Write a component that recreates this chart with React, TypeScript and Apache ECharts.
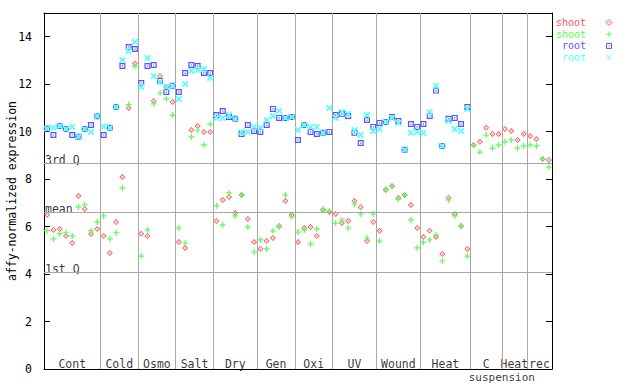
import React, { useEffect, useRef } from "react";
import * as echarts from "echarts";

// ---- data ----
const groupNames = ["Cont", "Cold", "Osmo", "Salt", "Dry", "Gen", "Oxi", "UV", "Wound", "Heat", "C", "Heat", "rec"];
const groupSizes = [9, 6, 6, 6, 7, 6, 6, 7, 7, 8, 5, 4, 4];
const subLabel = "suspension";
const subLabelAt = 73;

const shootRep1 = [
  6.50, 5.86, 5.90, 5.60, 5.31, 7.30, 6.74, 5.69, 5.90,
  5.60, 4.89, 6.19, 8.09, 11.00, 12.87,
  5.70, 5.60, 11.29, 12.35, 11.88, 11.25,
  5.35, 5.10, 10.07, 10.24, 9.99, 9.99,
  6.24, 7.12, 7.25, 6.57, 7.33, 6.32, 5.35,
  5.06, 5.39, 5.52, 6.03, 7.08, 6.49,
  5.35, 5.94, 5.98, 5.60, 6.70, 6.62,
  6.53, 6.15, 6.24, 7.08, 6.83, 5.39, 6.19,
  5.82, 7.54, 7.71, 7.21, 7.33, 6.91, 5.94,
  5.56, 5.82, 5.56, 4.85, 7.21, 6.53, 6.03, 5.06,
  9.44, 9.57, 10.16, 9.90, 9.90,
  10.11, 10.03, 9.65, 9.90,
  9.82, 9.69, 8.85, 8.81,
];
const shootRep2 = [
  5.83, 5.48, 5.70, 5.74, 5.60, 6.83, 6.92, 5.83, 6.19,
  6.45, 5.48, 5.74, 7.63, 11.14, 12.75,
  4.76, 5.86, 11.17, 11.63, 11.38, 10.70,
  5.94, 5.31, 9.78, 10.07, 9.44, 10.32,
  6.87, 6.07, 7.42, 6.45, 7.33, 5.98, 4.93,
  5.44, 5.06, 5.82, 5.98, 7.33, 6.41,
  5.77, 5.86, 5.27, 5.90, 6.74, 6.66,
  6.15, 6.28, 5.94, 6.95, 6.53, 5.52, 6.53,
  5.39, 7.59, 7.71, 7.16, 7.33, 6.28, 5.10,
  5.35, 5.44, 5.65, 4.55, 7.12, 6.45, 6.03, 4.76,
  9.44, 9.14, 9.86, 9.31, 9.44,
  9.57, 9.65, 9.31, 9.40,
  9.44, 9.40, 8.85, 8.51,
];
const rootRep1 = [
  10.13, 9.86, 10.24, 10.11, 9.86, 9.79, 10.11, 10.28, 10.65,
  9.86, 10.16, 11.04, 12.77, 13.57, 13.48,
  12.05, 12.77, 12.81, 12.14, 11.67, 11.93,
  11.67, 12.47, 12.81, 12.77, 12.47, 12.47,
  10.70, 10.87, 10.62, 10.54, 9.90, 10.28, 10.03,
  9.99, 10.28, 10.96, 10.58, 10.58, 10.62,
  9.65, 10.28, 9.99, 9.90, 9.95, 9.99,
  10.70, 10.75, 10.66, 9.95, 9.52, 10.49, 10.20,
  10.37, 10.41, 10.62, 10.45, 9.24, 10.32, 10.20,
  10.32, 10.66, 11.73, 9.40, 10.54, 10.58, 10.32, 11.04,
];
const rootRep2 = [
  10.13, 10.16, 10.24, 10.11, 10.20, 9.79, 10.11, 9.99, 10.65,
  10.22, 10.16, 11.04, 13.02, 13.40, 13.78,
  11.88, 13.10, 12.35, 12.09, 11.88, 11.93,
  11.38, 12.01, 12.56, 12.60, 12.64, 12.26,
  10.58, 10.58, 10.70, 10.54, 9.99, 9.99, 10.20,
  10.16, 10.49, 10.66, 10.87, 10.58, 10.62,
  10.07, 10.28, 10.20, 10.20, 9.95, 11.00,
  10.58, 10.83, 10.75, 10.07, 9.86, 10.70, 10.03,
  10.11, 10.41, 10.58, 10.37, 9.24, 9.95, 9.99,
  9.95, 10.83, 11.93, 9.40, 10.45, 10.11, 10.03, 10.96,
];

const quartileNames = ["3rd Q", "mean", "1st Q"];
const quartileValues = [8.68, 6.62, 4.09];
const yMax = 15;
const yStep = 2;

const seriesNames = ["shoot", "shoot", "root", "root"];
const seriesColors = ["#ff5555", "#55ff55", "#5555ff", "#55ffff"];

// ---- styles ----
const FONT = "DejaVu Sans Mono";
const FS = 11.5;
const LEGEND_FS = 10;
const SYM_DIAMOND = "path://M2.5,0L5,2.5L2.5,5L0,2.5Z M2.5,1L1,2.5L2.5,4L4,2.5Z M2.5,2L3,2.5L2.5,3L2,2.5Z";
const SYM_PLUS = "path://M2,0H3V2H5V3H3V5H2V3H0V2H2Z";
const SYM_SQUARE = "path://M0,0H5V5H0Z M1,1V4H4V1Z M2,2H3V3H2Z";
const SYM_X = "path://M0,0H1L2.5,1.5L4,0H5V1L3.5,2.5L5,4V5H4L2.5,3.5L1,5H0V4L1.5,2.5L0,1Z";
const symbols = [SYM_DIAMOND, SYM_PLUS, SYM_SQUARE, SYM_X];
const symbolSizes = [6, 6, 6, 6];

export default function App() {
  const ref = useRef<HTMLDivElement>(null);
  useEffect(() => {
    if (!ref.current) return;
    const chart = echarts.init(ref.current, undefined, { renderer: "svg" });

    const total = groupSizes.reduce((a, b) => a + b, 0);
    const bounds: number[] = [];
    const mids: number[] = [];
    let acc = 0;
    groupSizes.forEach((s, i) => {
      mids.push(acc + s / 2);
      acc += s;
      if (i < groupSizes.length - 1) bounds.push(acc);
    });

    const toPoints = (vals: number[]) => vals.map((v, i) => [i + 0.5, v]);
    const dataSets = [shootRep1, shootRep2, rootRep1, rootRep2];

    const pointSeries = dataSets.map((vals, i) => ({
      type: "scatter",
      name: seriesNames[i],
      data: toPoints(vals),
      symbol: symbols[i],
      symbolSize: symbolSizes[i],
      itemStyle: { color: seriesColors[i], opacity: 1 },
      z: 3 + i,
      silent: true,
    }));

    const textStyle = { fontFamily: FONT, fontSize: FS, color: "#000" };

    const guideSeries = {
      type: "scatter",
      name: "guides",
      data: [],
      z: 1,
      silent: true,
      markLine: {
        silent: true,
        symbol: ["none", "none"],
        animation: false,
        label: { show: false },
        lineStyle: { color: "#a8a8a8", type: "solid", width: 1 },
        data: [
          ...bounds.map((b) => ({ xAxis: b })),
          ...quartileValues.map((v) => ({ yAxis: v })),
        ],
      },
    };

    const quartileLabelSeries = {
      type: "scatter",
      name: "quartiles",
      symbolSize: 0,
      z: 2,
      silent: true,
      itemStyle: { color: "rgba(0,0,0,0)" },
      data: quartileValues.map((v, i) => ({ value: [0, v], name: quartileNames[i] })),
      label: {
        show: true,
        position: [0, 0],
        align: "left",
        verticalAlign: "bottom",
        offset: [1, 3],
        formatter: (p: any) => p.name,
        ...textStyle,
      },
    };

    const labelSeries = {
      type: "scatter",
      name: "groups",
      symbolSize: 0,
      z: 2,
      silent: true,
      itemStyle: { color: "rgba(0,0,0,0)" },
      data: mids.map((m, i) => ({ value: [m, 0], name: groupNames[i] })),
      label: {
        show: true,
        position: "top",
        distance: 0,
        offset: [0, -1],
        lineHeight: 9,
        formatter: (p: any) => p.name,
        ...textStyle,
      },
    };
    const subLabelSeries = {
      type: "scatter",
      name: "sub",
      symbolSize: 0,
      z: 2,
      silent: true,
      itemStyle: { color: "rgba(0,0,0,0)" },
      data: [{ value: [subLabelAt, 0], name: subLabel }],
      label: {
        show: true,
        position: "bottom",
        distance: 4,
        lineHeight: 9,
        formatter: (p: any) => p.name,
        ...textStyle,
        fontSize: 11,
      },
    };

    // legend drawn with graphics
    const legendX = 586;
    const legendMarkX = 609;
    const legendY0 = 22.5;
    const legendStep = 11.7;
    const legendEls: any[] = [];
    seriesNames.forEach((n, i) => {
      const y = legendY0 + i * legendStep;
      legendEls.push({
        type: "text",
        x: legendX,
        y,
        style: {
          text: n,
          fill: seriesColors[i],
          font: `${LEGEND_FS}px "${FONT}"`,
          lineHeight: 10,
          textAlign: "right",
          textVerticalAlign: "middle",
        },
      });
      const c = seriesColors[i];
      if (i === 0) {
        legendEls.push({ type: "polygon", shape: { points: [[legendMarkX, y - 3], [legendMarkX + 3, y], [legendMarkX, y + 3], [legendMarkX - 3, y]] }, style: { fill: "#fff", stroke: c, lineWidth: 1 } });
        legendEls.push({ type: "rect", shape: { x: legendMarkX - 0.5, y: y - 0.5, width: 1, height: 1 }, style: { fill: c } });
      } else if (i === 1) {
        legendEls.push({ type: "line", shape: { x1: legendMarkX - 3, y1: y, x2: legendMarkX + 3, y2: y }, style: { stroke: c, lineWidth: 1 } });
        legendEls.push({ type: "line", shape: { x1: legendMarkX, y1: y - 3, x2: legendMarkX, y2: y + 3 }, style: { stroke: c, lineWidth: 1 } });
      } else if (i === 2) {
        legendEls.push({ type: "rect", shape: { x: legendMarkX - 2.5, y: y - 2.5, width: 5, height: 5 }, style: { fill: "none", stroke: c, lineWidth: 1 } });
        legendEls.push({ type: "rect", shape: { x: legendMarkX - 0.5, y: y - 0.5, width: 1, height: 1 }, style: { fill: c } });
      } else {
        legendEls.push({ type: "line", shape: { x1: legendMarkX - 2.5, y1: y - 2.5, x2: legendMarkX + 2.5, y2: y + 2.5 }, style: { stroke: c, lineWidth: 1 } });
        legendEls.push({ type: "line", shape: { x1: legendMarkX - 2.5, y1: y + 2.5, x2: legendMarkX + 2.5, y2: y - 2.5 }, style: { stroke: c, lineWidth: 1 } });
      }
    });

    const axisLineStyle = { color: "#000", width: 1 };

    const option: any = {
      animation: false,
      backgroundColor: "#ffffff",
      grid: { left: 44, top: 13, width: 508, height: 356, containLabel: false, outerBoundsMode: "none" },
      xAxis: [
        {
          type: "value", min: 0, max: total, position: "bottom",
          axisLine: { show: true, onZero: false, lineStyle: axisLineStyle },
          axisTick: { show: false }, axisLabel: { show: false }, splitLine: { show: false },
        },
        {
          type: "value", min: 0, max: total, position: "top",
          axisLine: { show: true, onZero: false, lineStyle: axisLineStyle },
          axisTick: { show: false }, axisLabel: { show: false }, splitLine: { show: false },
        },
      ],
      yAxis: [
        {
          type: "value", min: 0, max: yMax, interval: yStep, position: "left",
          name: "affy-normalized expression",
          nameLocation: "middle",
          nameGap: 26,
          nameMoveOverlap: false,
          nameTextStyle: { ...textStyle },
          axisLine: { show: true, onZero: false, lineStyle: axisLineStyle },
          axisTick: { show: true, inside: true, length: 6, lineStyle: axisLineStyle },
          axisLabel: {
            show: true,
            margin: 12,
            showMaxLabel: false,
            formatter: (v: number) => (v % yStep === 0 ? String(v) : ""),
            ...textStyle,
          },
          splitLine: { show: false },
        },
        {
          type: "value", min: 0, max: yMax, interval: yStep, position: "right",
          axisLine: { show: true, onZero: false, lineStyle: axisLineStyle },
          axisTick: { show: true, inside: true, length: 6, lineStyle: axisLineStyle },
          axisLabel: { show: false },
          splitLine: { show: false },
        },
      ],
      series: [guideSeries, quartileLabelSeries, labelSeries, subLabelSeries, ...pointSeries],
      graphic: legendEls,
    };

    chart.setOption(option);
    return () => chart.dispose();
  }, []);

  return (
    <div
      ref={ref}
      style={{ position: "absolute", left: 0, top: 0, width: 640, height: 384, background: "#fff" }}
    />
  );
}
